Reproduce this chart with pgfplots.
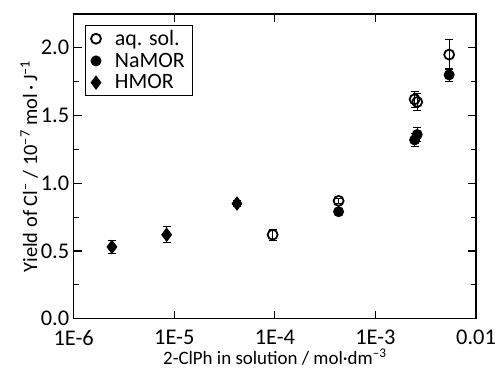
\documentclass[border=0pt]{standalone}
\usepackage{pgfplots}
\pgfplotsset{compat=1.18}
\usepackage{fontspec}
\setmainfont{Carlito}
\newcommand{\fx}{\fontsize{19}{20}\selectfont}
\newcommand{\fy}{\fontsize{20.5}{21}\selectfont}
\newcommand{\fl}{\fontsize{22}{23}\selectfont}
\newcommand{\ft}{\fontsize{22.5}{23}\selectfont}
\begin{document}
\begin{tikzpicture}
\useasboundingbox (-74pt,-54pt) rectangle (424pt,320pt);
\begin{axis}[
  name=ax,
  at={(0,0)}, anchor=south west,
  scale only axis,
  width=404pt, height=306pt,
  xmode=log, log basis x=10,
  xmin=1e-6, xmax=1e-2,
  ymin=0, ymax=2.25,
  xtick={1e-6,1e-5,1e-4,1e-3,1e-2},
  xticklabels={1E-6,1E-5,1E-4,1E-3,0.01},
  ytick={0,0.5,1.0,1.5,2.0},
  yticklabels={0.0,0.5,1.0,1.5,2.0},
  minor ytick={0.25,0.75,1.25,1.75},
  /pgf/number format/assume math mode=true,
  tick align=inside,
  major tick length=8pt, minor tick length=5pt,
  axis line style={line width=1.5pt},
  every tick/.style={black, line width=1.2pt},
  tick label style={font=\ft},
  xticklabel style={yshift=-8pt},
  yticklabel style={xshift=-1pt},
  xlabel={2-ClPh in solution / mol·dm\textsuperscript{–3}},
  ylabel={Yield of Cl\textsuperscript{–} / 10\textsuperscript{–7} mol\,·\,J\textsuperscript{–1}},
  xlabel style={font=\fx, yshift=3pt},
  ylabel style={font=\fy, yshift=-4pt},
  legend style={at={(0.027,0.964)}, anchor=north west, draw=black, line width=1pt,
    font=\fl, row sep=2pt, inner xsep=6pt, inner ysep=3pt,
    /tikz/every odd column/.append style={column sep=12pt}},
  legend cell align=left,
  error bars/y dir=both, error bars/y explicit,
  error bars/error mark options={rotate=90, mark size=4pt, line width=1.2pt},
  error bars/error bar style={line width=1.2pt},
]
\addplot[only marks, mark=o, mark size=5pt, black, line width=1.8pt, fill=white]
 coordinates {
 (9.5e-5,0.62) +- (0,0.04)
 (4.3e-4,0.87) +- (0,0.02)
 (2.45e-3,1.62) +- (0,0.06)
 (2.6e-3,1.60) +- (0,0.06)
 (5.4e-3,1.95) +- (0,0.11)
 };
\addlegendentry{aq. sol.}
\addplot[only marks, mark=*, mark size=5pt, black, line width=1pt]
 coordinates {
 (4.3e-4,0.79) +- (0,0.02)
 (2.45e-3,1.32) +- (0,0.05)
 (2.6e-3,1.36) +- (0,0.05)
 (5.4e-3,1.80) +- (0,0.05)
 };
\addlegendentry{NaMOR}
\addplot[only marks, mark=diamond*, mark size=6.5pt, black, line width=1pt]
 coordinates {
 (2.4e-6,0.53) +- (0,0.05)
 (8.4e-6,0.62) +- (0,0.06)
 (4.2e-5,0.85) +- (0,0.02)
 };
\addlegendentry{HMOR}
\end{axis}
\end{tikzpicture}
\end{document}
